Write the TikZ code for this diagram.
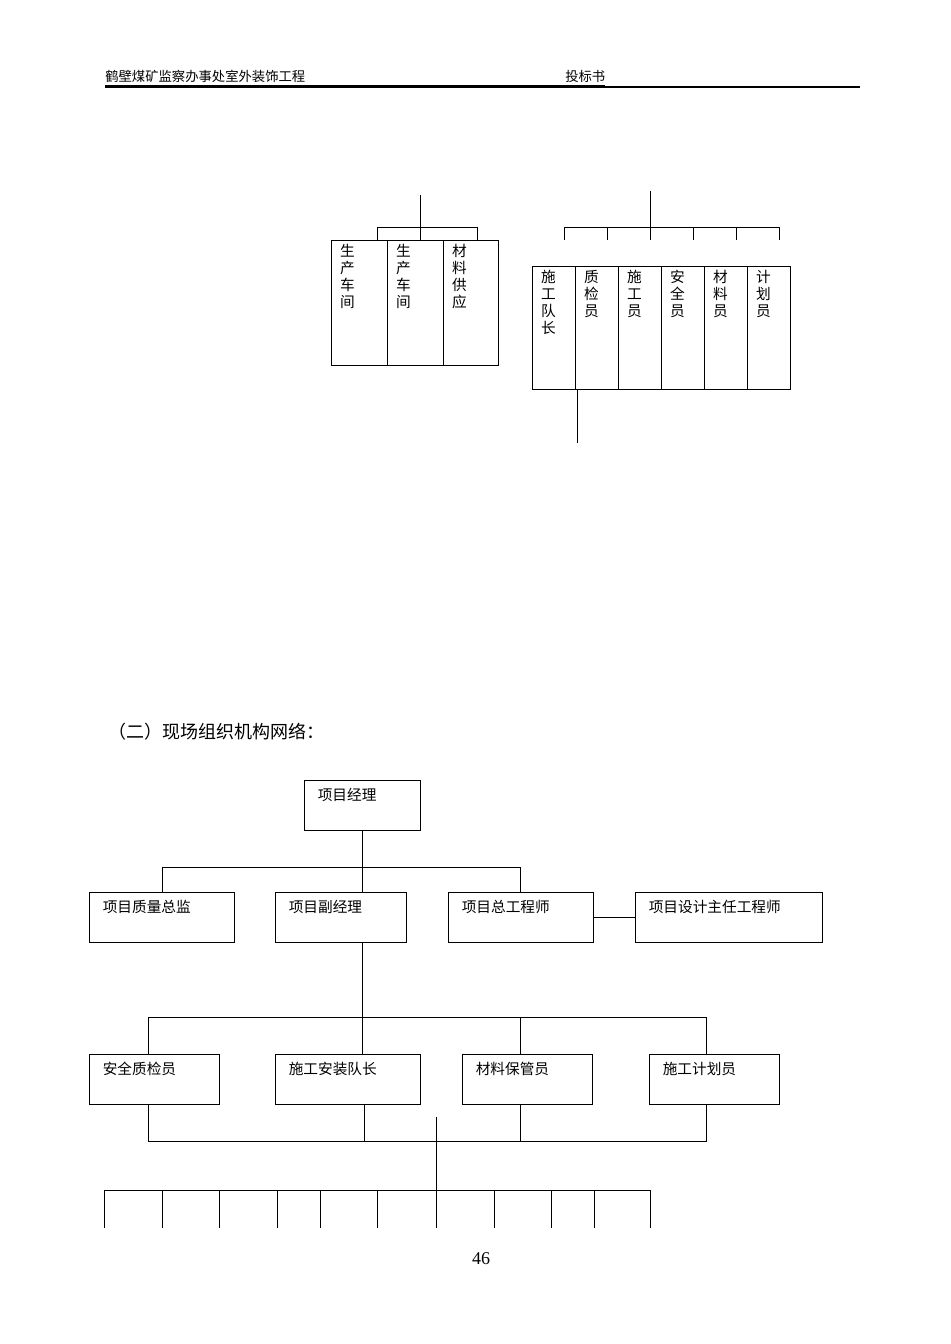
\documentclass[tikz,border=0pt]{standalone}
\usepackage{fontspec}
\setmainfont{Liberation Serif}
\newfontfamily\cjk{Noto Sans CJK SC}
\usetikzlibrary{fit}
\tikzset{
  bx/.style={draw, line width=0.75pt, inner sep=0pt},
  ln/.style={line width=0.75pt},
  lbl/.style={anchor=north west, inner sep=0pt, font=\cjk\fontsize{11}{12.75}\selectfont},
  vlbl/.style={anchor=north west, inner sep=0pt, align=left, font=\cjk\fontsize{11}{12.75}\selectfont},
}
\newcommand\mybox[6]{%
  \coordinate (#1-a) at (#2,#3); \coordinate (#1-b) at (#4,#5);
  \node[bx, fit=(#1-a)(#1-b)] (#1) {};
  \node[lbl] (#1-t) at ([shift={(10.5pt,-6pt)}]#1.north west) {#6};}
\newcommand\myvbox[6]{%
  \coordinate (#1-a) at (#2,#3); \coordinate (#1-b) at (#4,#5);
  \node[bx, fit=(#1-a)(#1-b)] (#1) {};
  \node[vlbl] (#1-t) at ([shift={(7pt,-2.5pt)}]#1.north west) {#6};}
\begin{document}
\begin{tikzpicture}[x=0.75pt,y=-0.75pt]
\useasboundingbox (0,0) rectangle (950,1344);
% header
\node[anchor=base west, inner sep=0pt, font=\cjk\itshape\fontsize{10}{12}\selectfont] (h1) at (105,82) {\underline{鹤壁煤矿监察办事处室外装饰工程}};
\node[anchor=base west, inner sep=0pt, font=\cjk\fontsize{10}{12}\selectfont] (h2) at (565,82) {\underline{投标书}};
\coordinate (r1) at (105,87); \coordinate (r2) at (860,87);
\draw[line width=1.2pt] (r1) -- (r2);
\draw[line width=0.4pt] (105,85) -- (600,85);
% top left group
\myvbox{a1}{331}{241}{387}{365}{生\\产\\车\\间}
\myvbox{a2}{387}{241}{443}{365}{生\\产\\车\\间}
\myvbox{a3}{443}{241}{498}{365}{材\\料\\供\\应}
\coordinate (ta) at (420,195); \coordinate (tb) at (420,228);
\draw[ln] (ta) -- (420,241);
\draw[ln] (377,241) -- (377,228) -- (477,228) -- (477,241);
% top right group
\myvbox{b1}{532}{267}{575}{389}{施\\工\\队\\长}
\myvbox{b2}{575}{267}{618}{389}{质\\检\\员}
\myvbox{b3}{618}{267}{661}{389}{施\\工\\员}
\myvbox{b4}{661}{267}{704}{389}{安\\全\\员}
\myvbox{b5}{704}{267}{747}{389}{材\\料\\员}
\myvbox{b6}{747}{267}{790}{389}{计\\划\\员}
\draw[ln] (650,191) -- (650,240);
\draw[ln] (564,240) -- (564,228) -- (779,228) -- (779,240);
\foreach \x in {607,693,736} \draw[ln] (\x,228) -- (\x,240);
\coordinate (bt) at (577,443);
\draw[ln] (577,389) -- (bt);
% title
\node[anchor=west, inner sep=0pt, font=\cjk\fontsize{13.5}{16}\selectfont] (title) at (108,732) {（二）现场组织机构网络：};
% bottom chart
\mybox{pm}{304}{780}{420}{830}{项目经理}
\mybox{q}{89}{892}{234}{942}{项目质量总监}
\mybox{d}{275}{892}{406}{942}{项目副经理}
\mybox{e}{448}{892}{593}{942}{项目总工程师}
\mybox{s}{635}{892}{822}{942}{项目设计主任工程师}
\draw[ln] (pm.south) -- (362,867);
\draw[ln] (162,892) -- (162,867) -- (520,867) -- (520,892);
\draw[ln] (362,867) -- (362,892);
\draw[ln] (e.east) -- (s.west);
\mybox{c1}{89}{1054}{219}{1104}{安全质检员}
\mybox{c2}{275}{1054}{420}{1104}{施工安装队长}
\mybox{c3}{462}{1054}{592}{1104}{材料保管员}
\mybox{c4}{649}{1054}{779}{1104}{施工计划员}
\draw[ln] (362,942) -- (362,1017);
\draw[ln] (148,1054) -- (148,1017) -- (706,1017) -- (706,1054);
\foreach \x in {362,520} \draw[ln] (\x,1017) -- (\x,1054);
\draw[ln] (148,1104) -- (148,1141) -- (706,1141) -- (706,1104);
\foreach \x in {364,520} \draw[ln] (\x,1104) -- (\x,1141);
\coordinate (m1) at (436,1117);
\draw[ln] (m1) -- (436,1190);
\draw[ln] (104,1190) -- (650,1190);
\foreach \x in {104,162,219,277,320,377,436,494,551,594,650} \draw[ln] (\x,1190) -- (\x,1228);
\node[font=\fontsize{13.5}{16}\selectfont, inner sep=0pt] (pg) at (481,1259) {46};
\end{tikzpicture}
\end{document}
